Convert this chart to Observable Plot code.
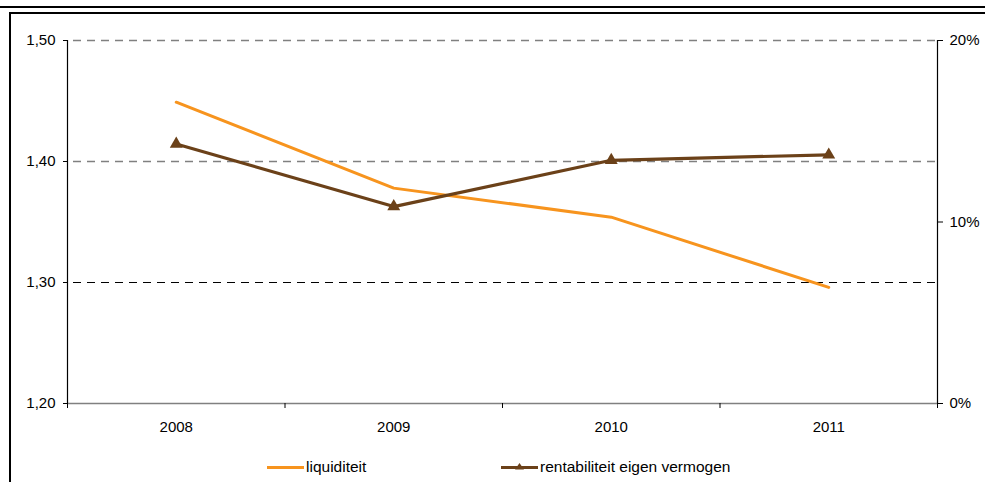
<!DOCTYPE html>
<html><head><meta charset="utf-8">
<script src="https://cdn.jsdelivr.net/npm/d3@7"></script>
<script src="https://cdn.jsdelivr.net/npm/@observablehq/plot@0.6"></script>
<style>
body{margin:0;background:#fff;font-family:"Liberation Sans",Arial,sans-serif;}
#wrap{position:relative;width:985px;height:482px;overflow:hidden;background:#fff;}
.topline{position:absolute;left:0;top:6px;width:985px;border-top:2px solid #000;}
.box{position:absolute;left:9px;top:12px;width:976px;height:480px;border-top:2px solid #000;border-left:2px solid #000;}
#chart{position:absolute;left:0;top:0;}
#legend{position:absolute;top:458px;left:0;width:985px;height:18px;font-size:15.5px;line-height:18px;color:#000;}
.item{position:absolute;top:0;display:flex;align-items:center;height:18px;}
.item svg{display:block;margin-right:2px;}
</style></head>
<body>
<div id="wrap">
  <div class="topline"></div>
  <div class="box"></div>
  <div id="chart"></div>
  <div id="legend"></div>
</div>
<script>
const years = [2008, 2009, 2010, 2011];
const bounds = [2007.5, 2008.5, 2009.5, 2010.5, 2011.5];
const liquiditeit = [1.449, 1.378, 1.354, 1.296];
const rentabiliteit = [14.3, 10.85, 13.4, 13.7]; // percent, right axis
const leftTicks = [1.20, 1.30, 1.40, 1.50];
const rightTicks = [0, 10, 20];
const seriesNames = ["liquiditeit", "rentabiliteit eigen vermogen"];

const orange = "#F7941E";
const brown = "#6B4119";
// right axis (0%..20%) mapped onto left axis (1.20..1.50)
const toLeft = r => 1.2 + r / 20 * 0.3;
const fromLeft = v => Math.round((v - 1.2) / 0.3 * 20);

const liqData = years.map((y, i) => ({year: y, value: liquiditeit[i]}));
const renData = years.map((y, i) => ({year: y, value: toLeft(rentabiliteit[i])}));

const chart = Plot.plot({
  width: 985, height: 440,
  marginLeft: 67, marginRight: 48, marginTop: 40, marginBottom: 37,
  style: {fontFamily: "'Liberation Sans', Arial, sans-serif", fontSize: "15px", color: "#000", background: "transparent", overflow: "visible"},
  x: {domain: [bounds[0], bounds[bounds.length - 1]]},
  y: {domain: [leftTicks[0], leftTicks[leftTicks.length - 1]]},
  marks: [
    Plot.ruleY(leftTicks.slice(2), {stroke: "#808080", strokeDasharray: "8,6", strokeDashoffset: 8, strokeWidth: 1.6}),
    Plot.ruleY(leftTicks.slice(1, 2), {stroke: "#000", strokeDasharray: "8,6", strokeDashoffset: 8, strokeWidth: 1}),
    Plot.ruleY(leftTicks.slice(0, 1), {stroke: "#808080", strokeWidth: 1.5}),
    Plot.ruleX([bounds[0], bounds[bounds.length - 1]], {y1: leftTicks[0], y2: leftTicks[leftTicks.length - 1], stroke: "#000", strokeWidth: 1.2}),
    Plot.axisY({anchor: "left", ticks: leftTicks, tickSize: 4, tickPadding: 8, label: null,
      tickFormat: d => d.toFixed(2).replace(".", ",")}),
    Plot.axisY({anchor: "right", ticks: rightTicks.map(toLeft), tickSize: 5, tickPadding: 7, label: null,
      tickFormat: v => fromLeft(v) + "%"}),
    Plot.axisX({ticks: years, tickSize: 0, tickPadding: 18, label: null, tickFormat: d => String(d)}),
    Plot.axisX({ticks: bounds, tickSize: 5, label: null, tickFormat: () => ""}),
    Plot.line(liqData, {x: "year", y: "value", stroke: orange, strokeWidth: 3}),
    Plot.line(renData, {x: "year", y: "value", stroke: brown, strokeWidth: 3.2}),
    Plot.dot(renData, {x: "year", y: "value", symbol: "triangle", r: 4.8, fill: brown, stroke: "none"})
  ]
});
document.getElementById("chart").appendChild(chart);

// legend
const legend = document.getElementById("legend");
const items = [
  {name: seriesNames[0], color: orange, marker: false, left: 267},
  {name: seriesNames[1], color: brown, marker: true, left: 501}
];
for (const it of items) {
  const div = document.createElement("div");
  div.className = "item";
  div.style.left = it.left + "px";
  div.innerHTML = `<svg width="37" height="18"><line x1="0" x2="37" y1="9.5" y2="9.5" stroke="${it.color}" stroke-width="3"/>` +
    (it.marker ? `<path d="M18.5,5 L23,11.5 L14,11.5 Z" fill="${it.color}"/>` : "") +
    `</svg><span>${it.name}</span>`;
  legend.appendChild(div);
}
</script>
</body></html>
